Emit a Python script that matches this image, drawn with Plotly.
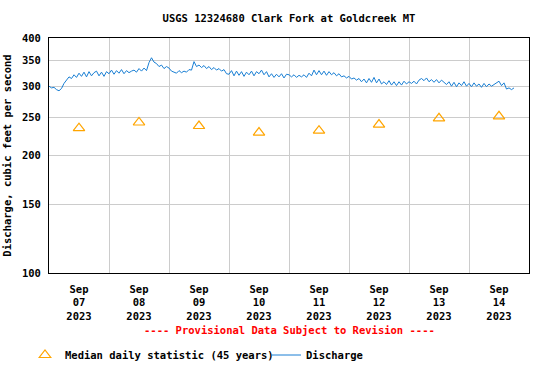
import numpy as np
import pandas as pd
import plotly.graph_objects as go

# ---- data ----
day_labels = ["Sep<br>07<br>2023", "Sep<br>08<br>2023", "Sep<br>09<br>2023", "Sep<br>10<br>2023",
              "Sep<br>11<br>2023", "Sep<br>12<br>2023", "Sep<br>13<br>2023", "Sep<br>14<br>2023"]
median_days = ["2023-09-07 12:00", "2023-09-08 12:00", "2023-09-09 12:00", "2023-09-10 12:00",
               "2023-09-11 12:00", "2023-09-12 12:00", "2023-09-13 12:00", "2023-09-14 12:00"]
median_values = [235, 243, 238, 229, 231.5, 240, 249, 252]

discharge_sep07 = [301, 298, 299, 295, 293, 297, 306, 311, 318, 315, 322, 317,
                   325, 319, 327, 318, 328, 320, 326, 329, 320, 327, 319, 328]
discharge_sep08 = [324, 331, 323, 330, 325, 332, 324, 330, 326, 329, 331, 327,
                   334, 329, 335, 330, 346, 356, 347, 344, 338, 341, 334, 338]
discharge_sep09 = [335, 329, 327, 325, 330, 326, 329, 327, 332, 331, 348, 338,
                   341, 336, 340, 334, 338, 332, 336, 331, 334, 329, 332, 324]
discharge_sep10 = [323, 330, 320, 329, 321, 328, 319, 327, 322, 329, 320, 328,
                   324, 331, 322, 328, 318, 324, 317, 323, 318, 324, 316, 323]
discharge_sep11 = [322, 318, 322, 317, 321, 318, 322, 317, 325, 320, 331, 322,
                   330, 322, 329, 321, 328, 322, 326, 320, 324, 318, 320, 316]
discharge_sep12 = [319, 314, 316, 312, 315, 309, 314, 307, 315, 308, 317, 307,
                   314, 305, 309, 304, 311, 303, 309, 302, 309, 303, 310, 305]
discharge_sep13 = [309, 306, 310, 305, 312, 315, 311, 316, 309, 313, 308, 313,
                   307, 312, 308, 304, 309, 301, 308, 300, 307, 302, 309, 301]
discharge_sep14 = [306, 300, 307, 301, 305, 299, 306, 300, 305, 301, 304, 307,
                   310, 302, 307, 296, 298, 295, 298]

y_ticks = [100, 150, 200, 250, 300, 350, 400]

discharge = (discharge_sep07 + discharge_sep08 + discharge_sep09 + discharge_sep10 +
             discharge_sep11 + discharge_sep12 + discharge_sep13 + discharge_sep14)
times = pd.date_range("2023-09-07 00:00", periods=len(discharge), freq="h")

FONT = "DejaVu Sans Mono"
BOLD = dict(family=FONT, size=10.5, weight="bold")

fig = go.Figure()
fig.add_trace(go.Scatter(
    x=median_days, y=median_values, mode="markers",
    name="Median daily statistic (45 years)", legend="legend",
    marker=dict(symbol="triangle-up-open", size=10, color="#FFA500", line=dict(width=1.2, color="#FFA500")),
))
fig.add_trace(go.Scatter(
    x=times, y=discharge, mode="lines", name="Discharge", legend="legend2",
    line=dict(color="#1a7fd4", width=1),
))

legend_y = (273 - 355) / 235
fig.update_layout(
    width=550, height=367,
    margin=dict(l=49, r=21, t=38, b=94, autoexpand=False),
    paper_bgcolor="white", plot_bgcolor="white",
    font=dict(family=FONT, size=10.5, color="black", weight="bold"),
    title=dict(text="USGS 12324680 Clark Fork at Goldcreek MT", x=(49 + 240) / 550, xanchor="center",
               y=1 - 18 / 367, yanchor="middle", font=BOLD),
    showlegend=True,
    legend=dict(orientation="h", x=(25 - 49) / 480, xanchor="left", y=legend_y, yanchor="middle",
                font=BOLD, itemwidth=30, bgcolor="rgba(0,0,0,0)"),
    legend2=dict(orientation="h", x=(266 - 49) / 480, xanchor="left", y=legend_y, yanchor="middle",
                 font=BOLD, itemwidth=30, bgcolor="rgba(0,0,0,0)"),
)
fig.update_xaxes(
    range=["2023-09-07 00:00", "2023-09-15 00:00"],
    tickmode="array", tickvals=median_days, ticktext=day_labels,
    showgrid=False, ticks="", tickfont=BOLD, ticklabelstandoff=6,
    showline=True, linecolor="black", linewidth=1, mirror=True,
    minor=dict(tick0="2023-09-07", dtick=86400000, showgrid=True, gridcolor="#cccccc", gridwidth=1, ticks=""),
    zeroline=False, automargin=False,
)
fig.update_yaxes(
    type="log", range=[np.log10(100), np.log10(400)],
    tickmode="array", tickvals=y_ticks, ticktext=[str(v) for v in y_ticks],
    showgrid=True, gridcolor="#cccccc", gridwidth=1, ticks="",
    showline=True, linecolor="black", linewidth=1, mirror=True,
    tickfont=BOLD, ticklabelstandoff=5,
    title=dict(text="Discharge, cubic feet per second", font=BOLD, standoff=8),
    zeroline=False, automargin=False,
)
fig.add_annotation(
    text="---- Provisional Data Subject to Revision ----",
    xref="paper", yref="paper", x=0.5, y=(273 - 330) / 235, xanchor="center", yanchor="middle",
    showarrow=False, font=dict(family=FONT, size=10.5, color="red", weight="bold"),
)
fig.write_html("out.html", config={"displayModeBar": False},
               post_script="document.body.style.margin='0';document.body.style.overflow='hidden';")
